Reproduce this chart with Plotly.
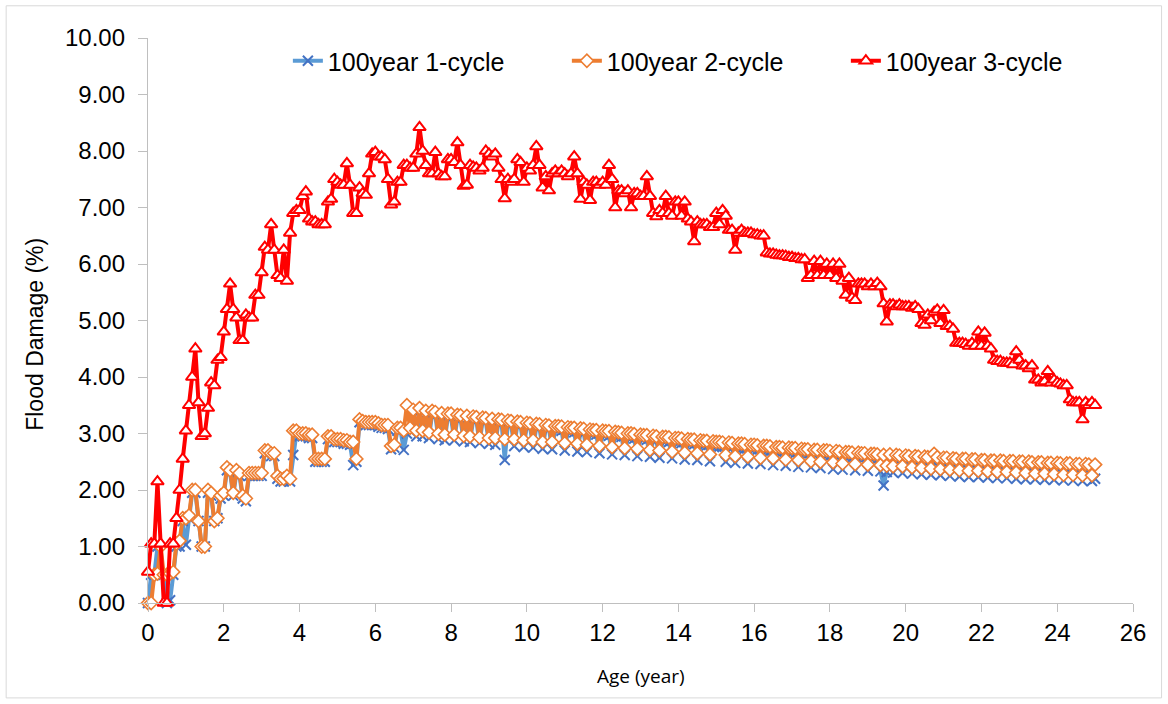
import plotly.graph_objects as go

# Flood damage (%) per month of age, one row per year (12 months), final value at 25 years
dmg_1cycle = [
    0.00, 0.50, 0.50, 1.00, 0.50, 0.50, 0.00, 0.05, 0.50, 1.00, 1.00, 1.45,
    1.03, 1.50, 1.95, 1.95, 1.45, 1.00, 1.00, 1.95, 1.90, 1.45, 1.50, 1.85,
    1.90, 2.35, 2.30, 1.90, 2.30, 2.25, 1.85, 1.80, 2.25, 2.25, 2.25, 2.25,
    2.25, 2.65, 2.65, 2.60, 2.60, 2.20, 2.15, 2.15, 2.20, 2.15, 2.62, 3.00,
    2.95, 2.95, 2.95, 2.92, 2.92, 2.50, 2.50, 2.50, 2.50, 2.90, 2.90, 2.85,
    2.85, 2.85, 2.82, 2.82, 2.80, 2.44, 2.50, 3.20, 3.18, 3.15, 3.15, 3.15,
    3.15, 3.12, 3.10, 3.10, 3.08, 2.72, 2.75, 3.05, 3.05, 2.71, 3.00, 3.05,
    3.40, 2.95, 3.40, 2.95, 3.35, 2.92, 3.35, 3.32, 2.90, 3.30, 2.88, 3.30,
    3.28, 2.88, 3.27, 3.25, 2.86, 3.25, 2.85, 3.24, 3.23, 2.83, 3.22, 3.21,
    2.82, 3.20, 2.80, 3.20, 3.18, 2.53, 3.17, 3.16, 2.78, 3.15, 3.14, 2.76,
    3.13, 3.12, 2.75, 3.11, 3.10, 2.73, 3.09, 3.08, 2.72, 3.07, 3.06, 3.05,
    2.70, 3.04, 3.03, 3.02, 2.68, 3.02, 3.01, 2.67, 3.00, 2.99, 2.98, 2.65,
    2.98, 2.97, 2.96, 2.63, 2.95, 2.95, 2.94, 2.62, 2.93, 2.92, 2.91, 2.60,
    2.91, 2.90, 2.89, 2.59, 2.88, 2.88, 2.57, 2.87, 2.86, 2.85, 2.56, 2.85,
    2.84, 2.83, 2.54, 2.83, 2.82, 2.81, 2.53, 2.80, 2.79, 2.79, 2.51, 2.78,
    2.77, 2.77, 2.76, 2.50, 2.75, 2.75, 2.48, 2.74, 2.73, 2.73, 2.47, 2.72,
    2.72, 2.71, 2.46, 2.70, 2.70, 2.69, 2.44, 2.68, 2.68, 2.67, 2.43, 2.67,
    2.66, 2.65, 2.41, 2.65, 2.64, 2.64, 2.40, 2.63, 2.63, 2.39, 2.62, 2.61,
    2.61, 2.37, 2.60, 2.60, 2.36, 2.59, 2.59, 2.58, 2.35, 2.58, 2.57, 2.57,
    2.34, 2.56, 2.56, 2.55, 2.33, 2.08, 2.32, 2.54, 2.31, 2.53, 2.53, 2.30,
    2.52, 2.52, 2.29, 2.51, 2.51, 2.28, 2.50, 2.50, 2.27, 2.49, 2.49, 2.26,
    2.48, 2.48, 2.25, 2.47, 2.47, 2.24, 2.46, 2.46, 2.23, 2.45, 2.45, 2.23,
    2.44, 2.44, 2.22, 2.43, 2.43, 2.21, 2.42, 2.42, 2.21, 2.41, 2.41, 2.20,
    2.40, 2.40, 2.19, 2.39, 2.39, 2.19, 2.38, 2.38, 2.18, 2.37, 2.37, 2.18,
    2.36, 2.36, 2.17, 2.35, 2.35, 2.17, 2.34, 2.34, 2.16, 2.33, 2.33, 2.16,
    2.20,
]

dmg_2cycle = [
    0.00, 0.00, 0.50, 0.52, 1.00, 0.50, 0.50, 0.52, 0.55, 1.05, 1.10, 1.50,
    1.50, 1.55, 2.00, 2.00, 1.45, 1.00, 1.00, 2.00, 1.95, 1.45, 1.50, 1.90,
    1.95, 2.40, 2.35, 1.95, 2.35, 2.30, 1.90, 1.85, 2.30, 2.30, 2.30, 2.30,
    2.30, 2.70, 2.70, 2.65, 2.65, 2.25, 2.20, 2.20, 2.25, 2.20, 3.05, 3.05,
    3.00, 3.00, 3.00, 2.98, 2.98, 2.55, 2.55, 2.55, 2.55, 2.95, 2.95, 2.90,
    2.90, 2.90, 2.88, 2.88, 2.85, 2.85, 2.55, 3.25, 3.22, 3.20, 3.20, 3.20,
    3.20, 3.18, 3.15, 3.15, 3.15, 2.78, 2.80, 3.10, 3.10, 3.05, 3.50, 3.10,
    3.42, 3.05, 3.45, 3.05, 3.40, 3.02, 3.40, 3.38, 3.00, 3.36, 2.98, 3.35,
    3.35, 2.98, 3.33, 3.32, 2.96, 3.31, 2.95, 3.30, 3.29, 2.93, 3.28, 3.27,
    2.92, 3.26, 2.92, 3.25, 3.24, 2.90, 3.23, 3.22, 2.90, 3.21, 3.20, 2.88,
    3.19, 3.18, 2.88, 3.17, 3.16, 2.85, 3.15, 3.14, 2.85, 3.13, 3.13, 3.12,
    2.83, 3.11, 3.10, 3.10, 2.82, 3.09, 3.08, 2.80, 3.07, 3.06, 3.06, 2.78,
    3.05, 3.04, 3.04, 2.76, 3.03, 3.02, 3.01, 2.74, 3.00, 3.00, 2.99, 2.73,
    2.98, 2.97, 2.97, 2.71, 2.96, 2.95, 2.70, 2.94, 2.94, 2.93, 2.68, 2.92,
    2.92, 2.91, 2.66, 2.90, 2.89, 2.89, 2.65, 2.88, 2.87, 2.87, 2.63, 2.86,
    2.85, 2.85, 2.84, 2.62, 2.84, 2.83, 2.60, 2.82, 2.82, 2.81, 2.59, 2.80,
    2.80, 2.79, 2.57, 2.78, 2.78, 2.77, 2.56, 2.76, 2.76, 2.75, 2.54, 2.75,
    2.74, 2.74, 2.53, 2.73, 2.72, 2.72, 2.51, 2.71, 2.71, 2.50, 2.70, 2.70,
    2.69, 2.49, 2.69, 2.68, 2.47, 2.67, 2.67, 2.66, 2.46, 2.66, 2.65, 2.65,
    2.45, 2.64, 2.64, 2.63, 2.44, 2.62, 2.43, 2.63, 2.42, 2.62, 2.61, 2.42,
    2.61, 2.60, 2.40, 2.60, 2.59, 2.39, 2.59, 2.58, 2.38, 2.64, 2.58, 2.37,
    2.57, 2.57, 2.36, 2.56, 2.55, 2.35, 2.55, 2.55, 2.34, 2.54, 2.54, 2.34,
    2.53, 2.53, 2.33, 2.52, 2.52, 2.32, 2.52, 2.51, 2.32, 2.51, 2.51, 2.31,
    2.50, 2.50, 2.30, 2.50, 2.49, 2.29, 2.49, 2.49, 2.29, 2.48, 2.48, 2.28,
    2.48, 2.47, 2.27, 2.47, 2.47, 2.27, 2.46, 2.46, 2.26, 2.46, 2.45, 2.26,
    2.45,
]

dmg_3cycle = [
    0.55, 1.05, 1.05, 2.15, 1.05, 0.00, 0.00, 1.05, 1.05, 1.50, 2.00, 2.55,
    3.05, 3.50, 4.00, 4.50, 3.55, 2.95, 3.00, 3.45, 3.90, 3.85, 4.30, 4.35,
    4.80, 5.20, 5.65, 5.20, 5.05, 4.65, 4.65, 5.10, 5.05, 5.05, 5.45, 5.45,
    5.85, 6.30, 6.25, 6.70, 6.25, 5.80, 5.75, 6.25, 5.70, 6.55, 6.90, 6.95,
    6.95, 7.20, 7.28, 6.80, 6.75, 6.75, 6.70, 6.70, 6.70, 7.10, 7.15, 7.50,
    7.45, 7.40, 7.40, 7.78, 7.40, 6.90, 6.90, 7.35, 7.25, 7.22, 7.60, 7.95,
    7.98, 7.90, 7.90, 7.85, 7.50, 7.05, 7.10, 7.45, 7.45, 7.75, 7.75, 7.70,
    7.70, 7.95, 8.42, 8.00, 7.75, 7.60, 7.60, 7.98, 7.60, 7.55, 7.55, 7.85,
    7.85, 7.80, 8.15, 7.75, 7.38, 7.40, 7.75, 7.72, 7.70, 7.65, 7.70, 8.00,
    7.95, 7.90, 7.95, 7.70, 7.50, 7.16, 7.50, 7.45, 7.50, 7.85, 7.80, 7.45,
    7.70, 7.65, 7.75, 8.08, 7.75, 7.35, 7.55, 7.30, 7.60, 7.65, 7.60, 7.65,
    7.60, 7.55, 7.60, 7.90, 7.60, 7.15, 7.45, 7.40, 7.13, 7.45, 7.45, 7.40,
    7.45, 7.40, 7.75, 7.50, 7.00, 7.30, 7.30, 7.25, 7.30, 7.00, 7.25, 7.25,
    7.20, 7.20, 7.55, 7.20, 6.90, 6.84, 6.95, 6.90, 7.20, 6.90, 6.85, 7.10,
    7.10, 6.85, 7.10, 6.80, 6.75, 6.40, 6.75, 6.70, 6.70, 6.70, 6.65, 6.65,
    6.90, 6.70, 6.95, 6.85, 6.60, 6.60, 6.25, 6.55, 6.60, 6.55, 6.55, 6.55,
    6.52, 6.52, 6.50, 6.50, 6.20, 6.18, 6.18, 6.16, 6.15, 6.15, 6.14, 6.12,
    6.12, 6.10, 6.10, 6.08, 6.08, 5.75, 5.80, 6.05, 5.80, 6.05, 5.80, 6.00,
    5.80, 6.00, 5.75, 6.00, 5.70, 5.45, 5.75, 5.40, 5.36, 5.65, 5.65, 5.65,
    5.60, 5.65, 5.60, 5.66, 5.60, 5.30, 4.98, 5.28, 5.28, 5.25, 5.28, 5.25,
    5.25, 5.25, 5.22, 5.25, 5.20, 4.95, 4.92, 5.10, 5.00, 5.15, 5.19, 4.95,
    5.18, 4.90, 4.90, 4.85, 4.60, 4.60, 4.60, 4.58, 4.55, 4.60, 4.55, 4.80,
    4.55, 4.78, 4.55, 4.50, 4.30, 4.28, 4.28, 4.25, 4.25, 4.25, 4.22, 4.45,
    4.30, 4.20, 4.20, 4.15, 4.20, 3.95, 3.95, 3.90, 3.92, 4.10, 3.90, 3.95,
    3.90, 3.88, 3.85, 3.85, 3.60, 3.55, 3.55, 3.55, 3.25, 3.55, 3.50, 3.55,
    3.50,
]

# Age in years for each monthly record
age_years = [m / 12 for m in range(len(dmg_3cycle))]

series_names = ["100year 1-cycle", "100year 2-cycle", "100year 3-cycle"]

fig = go.Figure()

fig.add_trace(go.Scatter(
    x=age_years, y=dmg_1cycle, name=series_names[0], mode="lines+markers",
    line=dict(color="#5B9BD5", width=4),
    marker=dict(symbol="x-thin", size=10, color="#4472C4",
                line=dict(color="#4472C4", width=2)),
    cliponaxis=False,
))
fig.add_trace(go.Scatter(
    x=age_years, y=dmg_2cycle, name=series_names[1], mode="lines+markers",
    line=dict(color="#ED7D31", width=4),
    marker=dict(symbol="diamond", size=10, color="white",
                line=dict(color="#ED7D31", width=1.6)),
    cliponaxis=False,
))
fig.add_trace(go.Scatter(
    x=age_years, y=dmg_3cycle, name=series_names[2], mode="lines+markers",
    line=dict(color="#FF0000", width=4),
    marker=dict(symbol="triangle-up", size=11, color="white",
                line=dict(color="#FF0000", width=2)),
    cliponaxis=False,
))

axis_grey = "#BFBFBF"
tick_font = dict(family="Liberation Sans, Arial, sans-serif", size=24, color="#000000")

fig.update_layout(
    width=1168, height=704,
    margin=dict(l=148, r=35, t=38, b=101),
    paper_bgcolor="white", plot_bgcolor="white",
    showlegend=True,
    legend=dict(
        orientation="h", x=0.142, y=1.0, xanchor="left", yanchor="top",
        font=dict(family="Liberation Sans, Arial, sans-serif", size=25, color="#000000"),
        bgcolor="rgba(0,0,0,0)", itemwidth=30, tracegroupgap=0,
        entrywidth=234, entrywidthmode="pixels",
    ),
    xaxis=dict(
        range=[0, 26], tick0=0, dtick=2, showgrid=False, zeroline=False,
        showline=True, linecolor=axis_grey, linewidth=1.3,
        ticks="outside", ticklen=8, tickcolor=axis_grey, tickwidth=1.3,
        tickfont=tick_font,
    ),
    yaxis=dict(
        range=[0, 10], tick0=0, dtick=1, tickformat=".2f", showgrid=False,
        zeroline=False, showline=True, linecolor=axis_grey, linewidth=1.3,
        ticks="outside", ticklen=9, tickcolor=axis_grey, tickwidth=1.3,
        tickfont=tick_font, ticklabelstandoff=8,
    ),
    annotations=[
        dict(text="Flood Damage (%)", xref="paper", yref="paper",
             x=-0.115, y=0.476, xanchor="center", yanchor="middle",
             textangle=-90, showarrow=False,
             font=dict(family="Liberation Sans, Arial, sans-serif", size=23, color="#000000")),
        dict(text="Age (year)", xref="paper", yref="paper",
             x=0.5, y=-0.129, xanchor="center", yanchor="middle",
             showarrow=False,
             font=dict(family="Open Sans, sans-serif", size=19, color="#000000")),
    ],
    shapes=[
        dict(type="rect", xref="paper", yref="paper",
             x0=-0.144, x1=1.029, y0=-0.168, y1=1.057,
             line=dict(color="#D9D9D9", width=1), layer="below"),
    ],
)

fig.write_html("out.html")
